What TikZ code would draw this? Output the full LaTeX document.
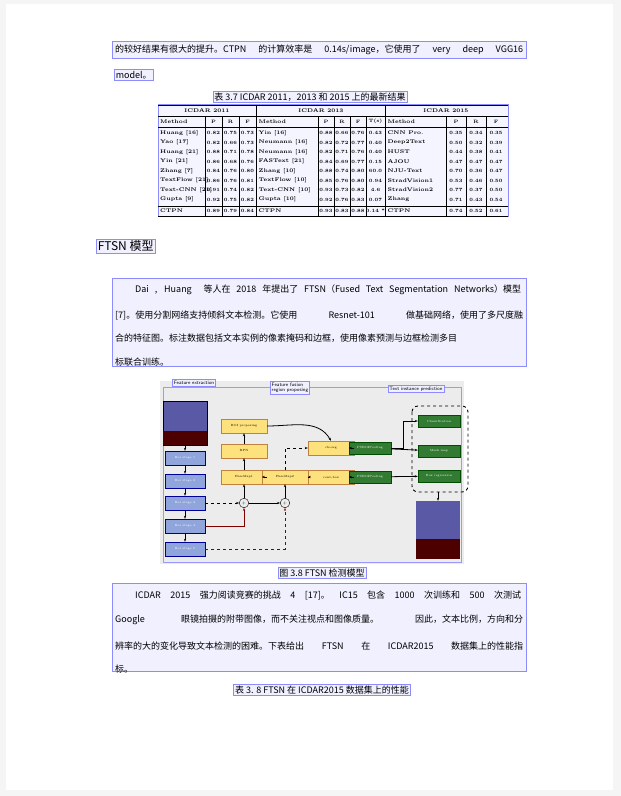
\documentclass[tikz,border=0pt]{standalone}
\usepackage{fontspec}
\newfontfamily\cjk{Noto Sans CJK SC}
\usetikzlibrary{arrows.meta}
\newcommand{\fl}[1]{\makebox[408pt][s]{#1}}
\newcommand{\fli}[1]{\makebox[386pt][s]{#1}}
\begin{document}
\begin{tikzpicture}[x=1pt,y=-1pt,
 hl/.style={draw=blue!45,fill=blue!6,line width=0.6pt,inner sep=1.5pt},
 txt/.style={font=\cjk\fontsize{9}{10}\selectfont,anchor=west,inner sep=1pt},
 capt/.style={font=\cjk\fontsize{9}{10}\selectfont,hl},
 cell/.style={font=\bfseries\fontsize{5.3}{6}\selectfont,inner sep=0.5pt},
 bb/.style={draw=blue!60!black,fill=cyan!40!blue!45,minimum width=40,minimum height=14,font=\fontsize{3}{3}\selectfont,text=white},
 yb/.style={draw=brown,fill=yellow!60!orange!50,minimum width=46,minimum height=14,font=\fontsize{3}{3}\selectfont},
 gb/.style={draw=green!30!black,fill=green!35!black!80,minimum width=42,minimum height=12,font=\fontsize{3}{3}\selectfont,text=white},
 ar/.style={-{Stealth[length=3pt]},line width=0.8pt}]
\useasboundingbox (0,0) rectangle (621,796);
\fill[gray!8] (0,0) rectangle (621,796);
\fill[white] (6,4) rectangle (613,790);
% top lines
\node[hl,minimum width=414,minimum height=17,anchor=west] (b1) at (112,50) {};
\node[txt] (l1) at (114,50) {\fl{的较好结果有很大的提升。CTPN 的计算效率是 0.14s/image，它使用了 very deep VGG16}};
\node[txt,hl] (l2) at (114,75) {model。};
\node[capt] (c1) at (310,97) {表 3.7 ICDAR 2011，2013 和 2015 上的最新结果};
% table
\draw[blue!45,fill=blue!4] (158,104) rectangle (508,216);
\draw[line width=0.8pt] (158,105) -- (508,105);
\draw[line width=0.8pt] (158,216) -- (508,216);
\draw (158,116) -- (508,116);
\draw (158,127) -- (508,127);
\draw (158,206) -- (508,206);
\foreach \x in {256.5,385.5}{\draw[line width=0.7pt] (\x,105)--(\x,216);}
\foreach \x in {205,222,239,318,334,350,366,446,466,486}{\draw[line width=0.3pt] (\x,116)--(\x,216);}
\node[cell] (g1) at (207,110.5) {ICDAR 2011};
\node[cell] (g2) at (321,110.5) {ICDAR 2013};
\node[cell] (g3) at (446,110.5) {ICDAR 2015};
\def\cx{{159.5,213.5,230.5,247.5,258,326,342,358,375.5,387,456,476,496}}
\foreach \y/\r in {
121.5/{Method,P,R,F,Method,P,R,F,T(s),Method,P,R,F},
133/{Huang [16],0.82,0.75,0.73,Yin [16],0.88,0.66,0.76,0.43,CNN Pro.,0.35,0.34,0.35},
142.5/{Yao [17],0.82,0.66,0.73,Neumann [16],0.82,0.72,0.77,0.40,Deep2Text,0.50,0.32,0.39},
152/{Huang [21],0.88,0.71,0.78,Neumann [16],0.82,0.71,0.76,0.40,HUST,0.44,0.38,0.41},
161.5/{Yin [21],0.86,0.68,0.76,FASText [21],0.84,0.69,0.77,0.15,AJOU,0.47,0.47,0.47},
171/{Zhang [7],0.84,0.76,0.80,Zhang [10],0.88,0.74,0.80,60.0,NJU-Text,0.70,0.36,0.47},
180.5/{TextFlow [21],0.86,0.76,0.81,TextFlow [10],0.85,0.76,0.80,0.94,StradVision1,0.53,0.46,0.50},
190/{Text-CNN [21],0.91,0.74,0.82,Text-CNN [10],0.93,0.73,0.82,4.6,StradVision2,0.77,0.37,0.50},
199.5/{Gupta [9],0.92,0.75,0.82,Gupta [10],0.92,0.76,0.83,0.07,Zhang,0.71,0.43,0.54},
211/{CTPN,0.89,0.79,0.84,CTPN,0.93,0.83,0.88,0.14 *,CTPN,0.74,0.52,0.61}}{
 \foreach \t [count=\i from 0] in \r {
  \pgfmathsetmacro\xx{\cx[\i]}
  \pgfmathtruncatemacro\isw{(\i==0)||(\i==4)||(\i==9)}
  \ifnum\isw=1 \node[cell,anchor=west] at (\xx,\y) {\t};
  \else \node[cell,font=\bfseries\fontsize{4.8}{6}\selectfont] at (\xx,\y) {\t};\fi
 }}
% heading
\node[font=\cjk\fontsize{12}{13}\selectfont,hl,anchor=west] (h) at (96,246) {FTSN 模型};
% paragraph 1
\node[hl,minimum width=414,minimum height=88,anchor=north west] (p1) at (112,278) {};
\node[txt] (p11) at (134,290) {\fli{Dai , Huang \ 等人在 2018 年提出了 FTSN（Fused Text Segmentation Networks）模型}};
\node[txt] (p12) at (114,315) {\fl{[7]。使用分割网络支持倾斜文本检测。它使用 Resnet-101 做基础网络，使用了多尺度融}};
\node[txt] (p13) at (114,338) {\fl{合的特征图。标注数据包括文本实例的像素掩码和边框，使用像素预测与边框检测多目}};
\node[txt] (p14) at (114,362) {标联合训练。};
% figure
\fill[gray!15] (160,381) rectangle (464,564);
\draw[blue!40,line width=0.8pt] (163,387) rectangle (461,562);
\node[hl,font=\sffamily\fontsize{5}{5}\selectfont] (f1) at (194,383) {Feature extraction};
\node[hl,font=\sffamily\fontsize{5}{5}\selectfont,align=left] (f2) at (290,388) {Feature fusion\\region proposing};
\node[hl,font=\sffamily\fontsize{5}{5}\selectfont] (f3) at (416,389) {Text instance prediction};
\node[draw,fill=blue!30!gray,minimum width=44,minimum height=44] (img1) at (185,423) {};
\node[fill=red!30!black,minimum width=44,minimum height=14] at (185,438) {};
\node[bb] (s1) at (185,458) {Res stage 1};
\node[bb] (s2) at (185,481) {Res stage 2};
\node[bb] (s3) at (185,503) {Res stage 3};
\node[bb] (s4) at (185,526) {Res stage 4};
\node[bb] (s5) at (185,549) {Res stage 5};
\foreach \a/\b in {img1/s1,s1/s2,s2/s3,s3/s4,s4/s5}{\draw[ar] (\a)--(\b);}
\node[circle,draw,inner sep=1.5pt,font=\fontsize{4}{4}\selectfont] (o1) at (244,503) {+};
\node[circle,draw,inner sep=1.5pt,font=\fontsize{4}{4}\selectfont] (o2) at (285,503) {+};
\node[yb] (roi) at (244,426) {ROI proposing};
\node[yb] (rpn) at (244,451) {RPN};
\node[yb] (pf1) at (244,477) {FuseMap1};
\node[yb] (pf2) at (285,477) {FuseMap2};
\node[yb] (cls) at (331,448) {cls-seg};
\node[yb] (box) at (331,477) {conv-box};
\node[gb] (ps1) at (370,448) {PSROIPooling};
\node[gb] (ps2) at (370,477) {PSROIPooling};
\node[gb] (cf) at (439,421) {Classification};
\node[gb] (mk) at (439,451) {Mask map};
\node[gb] (br) at (439,476) {Box regression};
\draw[dashed,line width=0.9pt,rounded corners=6] (412,406) rectangle (468,492);
\node[fill=blue!30!gray,minimum width=44,minimum height=38] (img2) at (438,520) {};
\node[fill=red!30!black,minimum width=44,minimum height=20] at (438,549) {};
\draw[dashed,ar] (s3)--(o1);
\draw[ar] (o1)--(o2);
\draw[ar,red!50!black] (s4.east)-|(o1);
\draw[ar,red!50!black,dashed] (s5.east)-|(o2);
\draw[ar] (o1)--(pf1);
\draw[ar] (o2)--(pf2);
\draw[ar] (pf1)--(rpn);
\draw[ar] (rpn)--(roi);
\draw[ar] (pf1)--(pf2);
\draw[ar] (pf2)--(box);
\draw[ar,dashed] (pf2.north)|-(cls.west);
\draw[ar] (roi.east) to[out=0,in=120] (cls.north);
\draw[ar] (cls)--(ps1);
\draw[ar] (box)--(ps2);
\draw[ar] (ps1)--(mk);
\draw[ar] (ps1.east)-|(403,421)--(cf);
\draw[ar] (ps2)--(br);
\draw[ar] (438,492)--(img2);
\node[capt] (c2) at (322,573) {图 3.8 FTSN 检测模型};
% paragraph 2
\node[hl,minimum width=414,minimum height=88,anchor=north west] (p2) at (112,583) {};
\node[txt] (p21) at (134,595) {\fli{ICDAR 2015 强力阅读竞赛的挑战 4 [17]。 IC15 包含 1000 次训练和 500 次测试}};
\node[txt] (p22) at (114,620) {\fl{Google 眼镜拍摄的附带图像，而不关注视点和图像质量。 因此，文本比例，方向和分}};
\node[txt] (p23) at (114,646) {\fl{辨率的大的变化导致文本检测的困难。下表给出 FTSN 在 ICDAR2015 数据集上的性能指}};
\node[txt] (p24) at (114,669) {标。};
\node[capt] (c3) at (322,690) {表 3. 8 FTSN 在 ICDAR2015 数据集上的性能};
\end{tikzpicture}
\end{document}
